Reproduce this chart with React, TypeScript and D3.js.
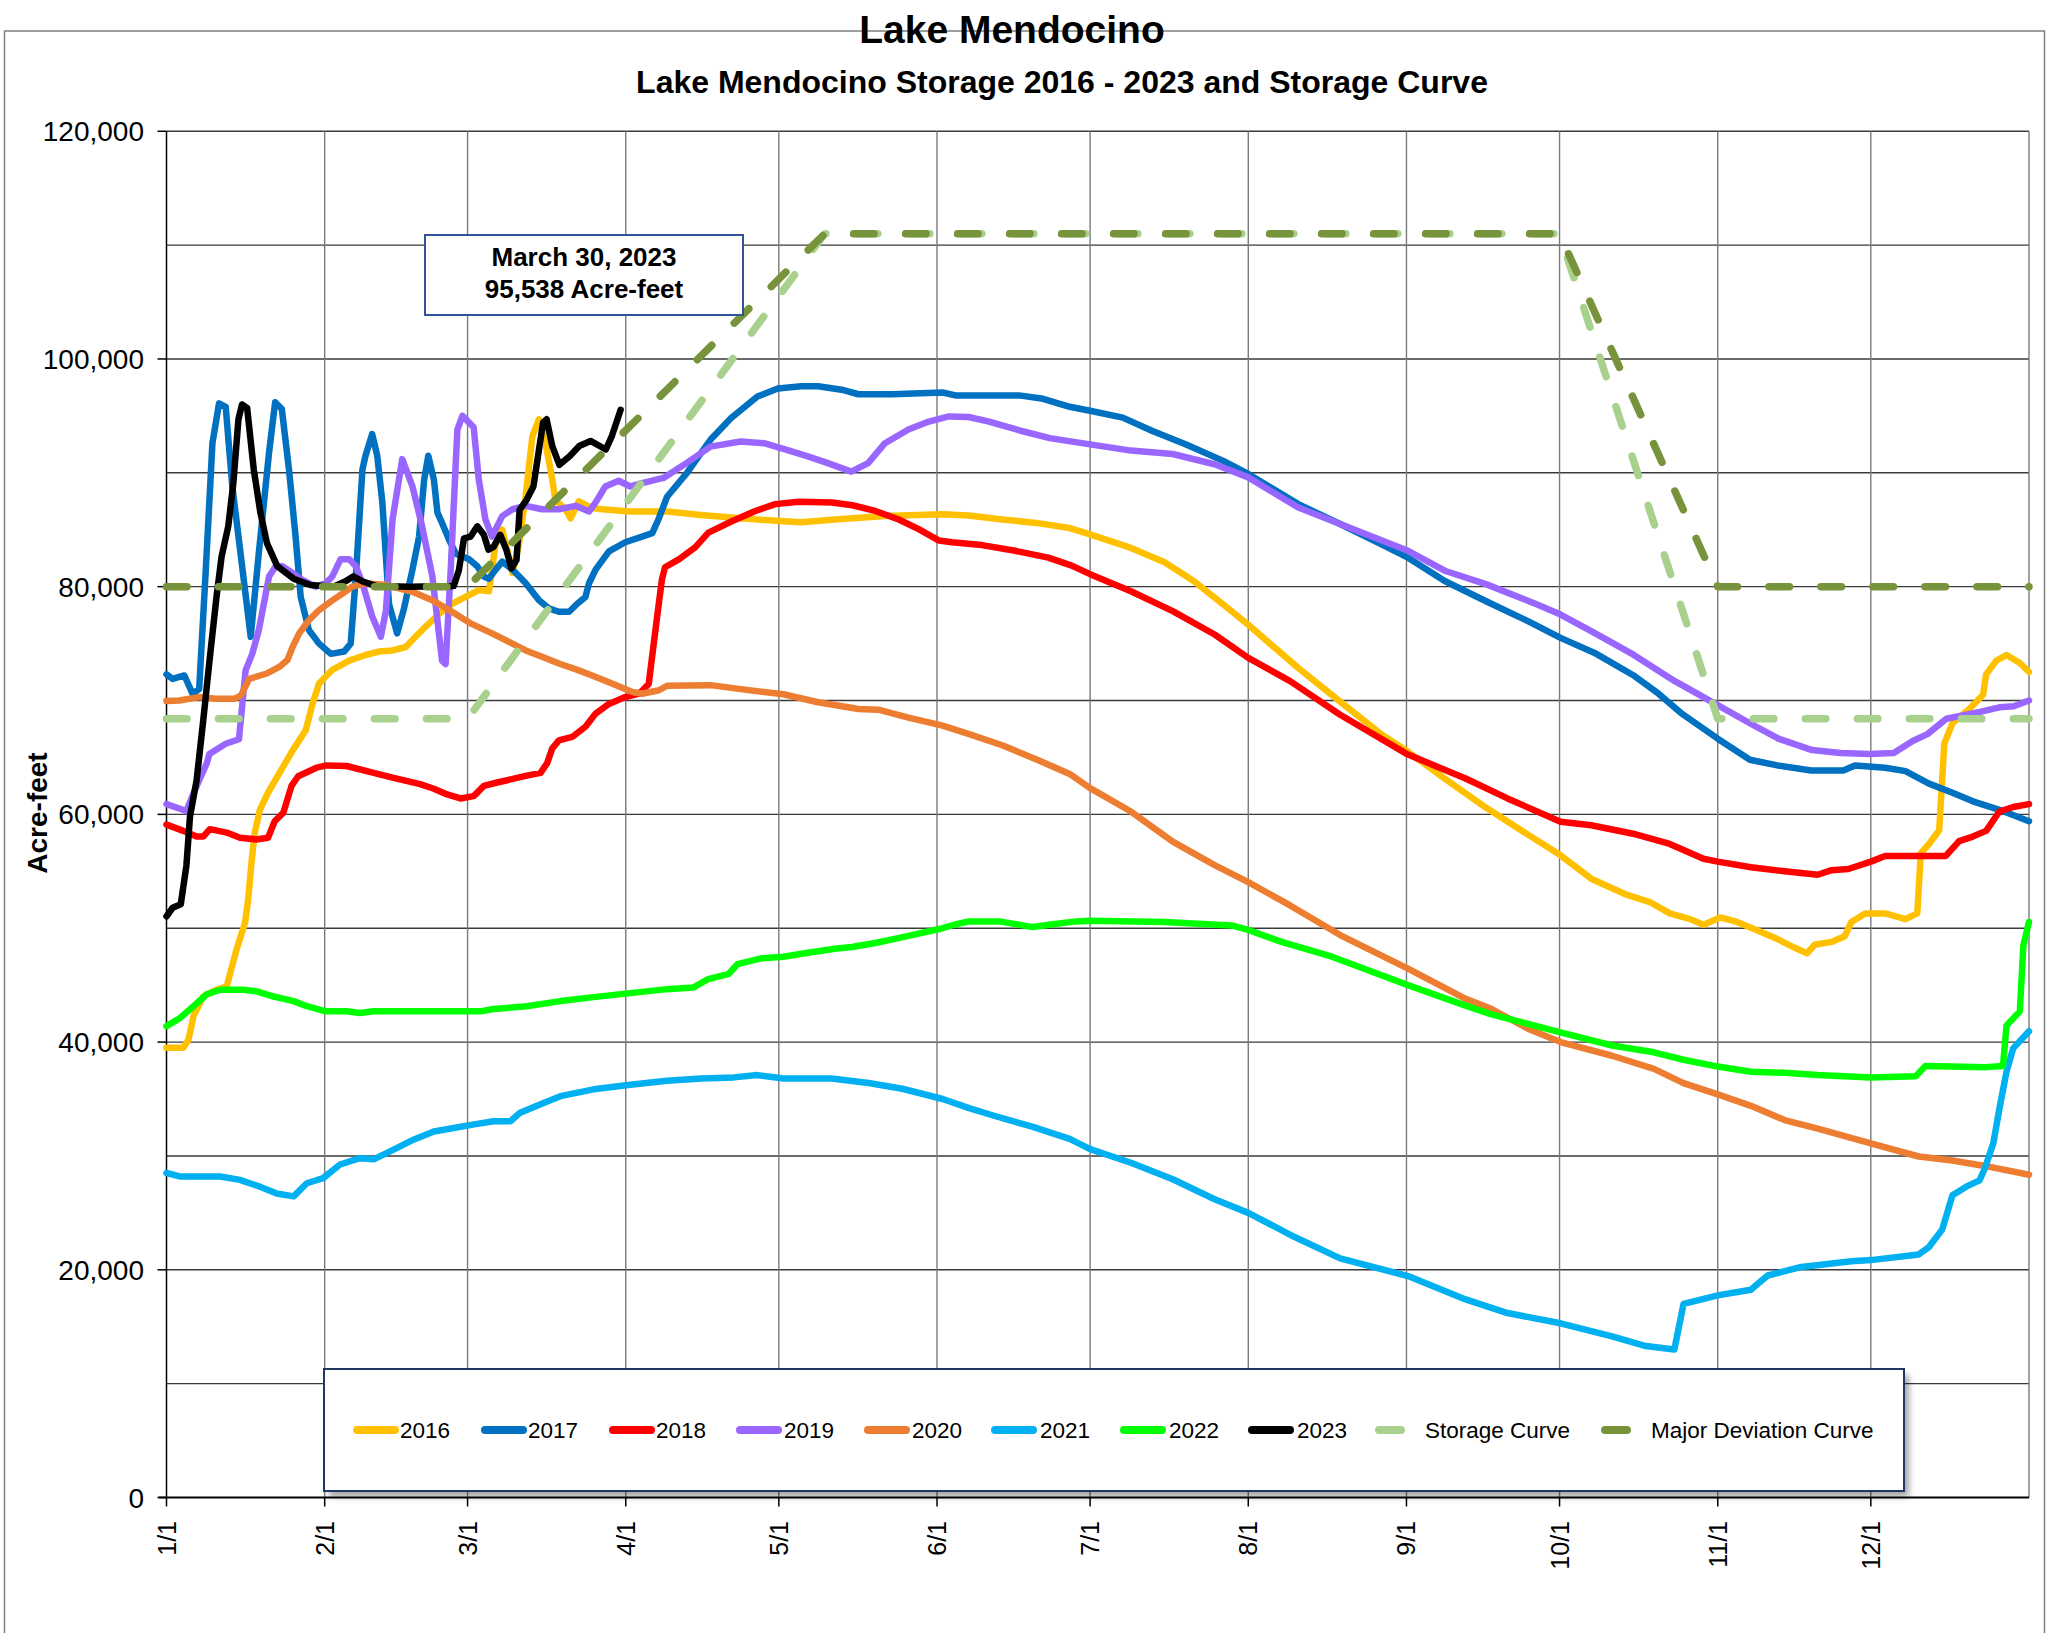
import React from "react";
import * as d3 from "d3";

type Pt = [number, number];

// x = day of year (1/1 = 0), y = storage in acre-feet
const monthDays = [0, 31, 59, 90, 120, 151, 181, 212, 243, 273, 304, 334, 365];
const monthLabels = ["1/1", "2/1", "3/1", "4/1", "5/1", "6/1", "7/1", "8/1", "9/1", "10/1", "11/1", "12/1"];
const yLabelTicks = [0, 20000, 40000, 60000, 80000, 100000, 120000];
const yGridTicks = [10000, 20000, 30000, 40000, 50000, 60000, 70000, 80000, 90000, 100000, 110000, 120000];

const s2016: Pt[] = [
  [0, 39500], [3.3, 39500], [4.3, 40200], [5.3, 42300], [7.2, 44000], [9.8, 44600], [11.8, 44900], [13.7, 48100],
  [15.4, 50500], [16, 52500], [16.7, 56000], [17.3, 58400], [18.3, 60400], [19.9, 61900], [22.1, 63600], [24.7, 65600],
  [27.3, 67400], [28.6, 69700], [29.9, 71500], [32.5, 72700], [35.8, 73500], [39, 74000], [41.6, 74300], [44.3, 74400],
  [46.9, 74700], [48.8, 75600], [50.8, 76500], [53.4, 77600], [56, 78500], [58.6, 79100], [61.2, 79700], [63.2, 79600],
  [63.8, 81500], [64.5, 83800], [65.8, 85000], [67.1, 82600], [67.8, 81200], [69.1, 83800], [70.4, 88000], [71.7, 93200],
  [73, 94700], [74.3, 92600], [75.6, 89400], [76.2, 87600], [78.2, 86800], [79.2, 86000], [80.8, 87500], [83.4, 86900],
  [85.4, 86800], [90.9, 86600], [98.1, 86600], [104.7, 86300], [112.5, 86000], [120.9, 85750], [124.4, 85650], [131, 85900],
  [140.8, 86200], [152, 86350], [157.2, 86250], [163.8, 85900], [170.4, 85600], [177, 85150], [181, 84600], [189, 83400],
  [195.6, 82150], [201.3, 80500], [207.9, 78150], [212, 76650], [221.8, 72850], [230, 69900], [238.2, 67000], [243.3, 65500],
  [250.5, 63150], [258.7, 60550], [266.9, 58200], [273.2, 56400], [279.2, 54350], [285.8, 53000], [290.7, 52300], [294.6, 51300],
  [298.6, 50800], [301.2, 50300], [304.5, 50950], [307.8, 50550], [311.8, 49800], [315.7, 49050], [319, 48300], [321.5, 47800],
  [323, 48550], [326.3, 48800], [328.9, 49300], [330.2, 50550], [332.9, 51300], [336.8, 51300], [340.8, 50800], [343.1, 51300],
  [343.8, 56600], [345.4, 57400], [347.4, 58600], [348.4, 66200], [350, 68000], [353.3, 69250], [356, 70500], [356.6, 72300],
  [358.6, 73500], [360.6, 74000], [363.2, 73300], [365, 72500],
];

const s2017: Pt[] = [
  [0, 72300], [1.2, 71900], [3.5, 72200], [5.1, 70600], [6.4, 71000], [7.7, 81500], [9, 92600], [10.3, 96100],
  [11.6, 95800], [12.9, 88800], [14.9, 81500], [16.5, 75600], [18.1, 83000], [20.1, 91800], [21.3, 96200], [22.6, 95600],
  [24, 90300], [25.3, 84400], [26.3, 79100], [27.9, 76200], [29.9, 75000], [32.2, 74100], [34.8, 74300], [36.1, 75000],
  [37.1, 80900], [38.4, 90300], [39, 91500], [40.3, 93400], [41.3, 91500], [42.3, 87400], [43.6, 78500], [45.2, 75900],
  [46.5, 78000], [48.2, 81500], [49.5, 84400], [50.5, 89400], [51.3, 91500], [52.4, 89400], [53.1, 86500], [54, 85600],
  [55.4, 84100], [56.7, 82900], [59.3, 82400], [60.9, 81800], [62.2, 80900], [63.2, 80700], [64.5, 81500], [65.8, 82200],
  [67.8, 81500], [70.4, 80300], [73, 78800], [74.9, 78100], [76.9, 77800], [78.9, 77800], [80.5, 78500], [82.1, 79100],
  [82.8, 80300], [84.1, 81500], [86.7, 83100], [89.9, 83900], [93.2, 84400], [95.2, 84700], [96.4, 85900], [98.1, 87900],
  [102, 90000], [104.7, 91700], [106.6, 92900], [110.6, 94800], [115.8, 96700], [119.8, 97400], [124.4, 97600], [127.7, 97600],
  [132.3, 97300], [135.6, 96900], [142.1, 96900], [152.1, 97050], [154.6, 96800], [160.6, 96800], [167.1, 96800], [171.8, 96500],
  [177, 95800], [181, 95450], [187.4, 94850], [193.1, 93700], [199.7, 92500], [207.1, 91050], [212, 89900], [221.8, 87250],
  [230, 85500], [238.2, 83700], [243.3, 82550], [250.5, 80500], [258.7, 78700], [266.9, 76950], [273.2, 75500], [280.2, 74100],
  [287.7, 72150], [292.4, 70600], [297.1, 68800], [304, 66650], [310.3, 64800], [315.7, 64300], [322.3, 63850], [328.6, 63850],
  [330.9, 64300], [336.8, 64100], [340.8, 63800], [345.4, 62700], [350, 61900], [354, 61150], [359.2, 60400], [365, 59400],
];

const s2018: Pt[] = [
  [0, 59100], [3.3, 58550], [5.9, 58050], [7.2, 58050], [8.5, 58700], [11.8, 58400], [14.4, 57950], [17.6, 57800],
  [19.9, 57950], [21.2, 59400], [22.9, 60150], [24.5, 62500], [25.8, 63350], [29.4, 64100], [31.4, 64300], [35.3, 64250],
  [40.6, 63650], [44.5, 63200], [49.7, 62650], [52.4, 62250], [55, 61750], [57.6, 61400], [60.2, 61600], [62.2, 62500],
  [64.8, 62800], [68.7, 63200], [70.6, 63400], [73.3, 63650], [74.6, 64500], [75.6, 65800], [76.9, 66500], [79.5, 66800],
  [82.1, 67700], [84.1, 68850], [86.7, 69700], [89.9, 70300], [92.6, 70600], [94.5, 71450], [96.1, 77200], [97.1, 80650],
  [97.7, 81700], [100.4, 82400], [103.6, 83450], [106.2, 84750], [110.8, 85750], [115.4, 86650], [119.3, 87250], [123.9, 87450],
  [130.4, 87400], [134.4, 87150], [138.9, 86650], [143.5, 85900], [147.4, 85050], [151.4, 84050], [153.9, 83900], [159.8, 83650],
  [166.3, 83150], [172.8, 82550], [177.4, 81850], [181, 81100], [189, 79600], [197.2, 77850], [205.4, 75800], [212, 73750],
  [220.2, 71700], [230, 68750], [243.3, 65250], [254.6, 63150], [262.8, 61400], [273.2, 59350], [279.2, 59050], [287.4, 58300],
  [294.6, 57400], [301.2, 56100], [304, 55850], [310.5, 55350], [317.1, 55000], [323.6, 54700], [326.3, 55100], [329.6, 55200],
  [334, 55850], [336.8, 56350], [348.7, 56350], [351.3, 57650], [354, 58050], [356.6, 58550], [357.9, 59400], [359.2, 60250],
  [361.9, 60650], [365, 60900],
];

const s2019: Pt[] = [
  [0, 60900], [3.9, 60300], [5.3, 61850], [6.4, 63000], [7.9, 64500], [8.4, 65300], [11.6, 66200], [14.2, 66600],
  [15.5, 72650], [16.8, 74100], [18.1, 76200], [20.1, 80900], [21.4, 81800], [22.7, 81800], [24.7, 81200], [26.6, 80600],
  [29.2, 80000], [31.2, 80300], [32.5, 80900], [34.1, 82400], [35.8, 82400], [37.1, 81800], [38.4, 80300], [40.3, 77400],
  [42, 75600], [43, 77900], [44.3, 85900], [46.2, 91200], [48.2, 88800], [50.1, 85300], [52.1, 80900], [54, 73500],
  [54.7, 73200], [55.7, 81500], [57, 93800], [58, 95000], [60.2, 94000], [61.2, 89400], [62.5, 85900], [63.8, 84400],
  [65.8, 86200], [67.8, 86800], [70.4, 87100], [73.6, 86800], [76.9, 86800], [80.2, 87100], [82.8, 86600], [84.1, 87400],
  [86, 88800], [88.6, 89300], [90.9, 88800], [93.2, 89100], [97.4, 89550], [101.4, 90700], [106.6, 92300], [112.5, 92750],
  [117.1, 92600], [121.7, 92000], [125.7, 91450], [129.6, 90850], [134.2, 90100], [137.5, 90850], [140.8, 92600], [145.4, 93800],
  [149.4, 94500], [153.3, 94950], [157.2, 94900], [161.2, 94500], [167.8, 93650], [173.1, 93050], [181, 92500], [189, 91950],
  [197.2, 91650], [205.4, 90750], [212, 89600], [221.8, 86950], [230, 85500], [243.3, 83150], [250.5, 81400], [258.7, 80200],
  [268.5, 78450], [273.2, 77550], [279.2, 76100], [287.4, 74050], [295.6, 71700], [304, 69600], [310.3, 68000], [315.9, 66650],
  [322.5, 65650], [328.1, 65400], [333.7, 65300], [338.5, 65400], [342.2, 66450], [345.1, 67050], [348.8, 68400], [355.4, 69000],
  [359.2, 69400], [362, 69500], [365, 70000],
];

const s2020: Pt[] = [
  [0, 69950], [2.5, 70000], [6.4, 70300], [9.7, 70150], [13.3, 70150], [14.6, 70450], [16.2, 71900], [19.5, 72350],
  [22.1, 72950], [23.7, 73550], [24.7, 74700], [26, 75900], [27.9, 77050], [29.9, 77950], [32.5, 78800], [34.5, 79400],
  [36.4, 80000], [39, 80300], [42.9, 80150], [48.2, 79550], [52.1, 78800], [55.4, 77950], [59.7, 76750], [63.8, 75900],
  [67.1, 75150], [70.4, 74400], [73.6, 73850], [76.9, 73250], [80.8, 72650], [83.4, 72200], [86.7, 71600], [91.3, 70750],
  [93.2, 70600], [96.5, 70900], [98.1, 71300], [106.6, 71350], [112.5, 71000], [120.9, 70550], [127.7, 69850], [135.6, 69250],
  [139.5, 69200], [145.4, 68500], [152.1, 67800], [157.3, 67050], [163.9, 66050], [170.4, 64850], [177, 63550], [181, 62300],
  [189, 60250], [197.2, 57600], [205.4, 55550], [212, 54050], [220.2, 52000], [230, 49400], [243.3, 46450], [254.6, 43800],
  [259.5, 42950], [266.9, 41150], [273.2, 40000], [283.3, 38800], [291.5, 37650], [297.3, 36400], [304, 35400], [310.5, 34400],
  [317.1, 33150], [323.6, 32400], [334, 31100], [343.4, 29950], [350, 29600], [356.6, 29100], [365, 28350],
];

const s2021: Pt[] = [
  [0, 28500], [2.6, 28200], [10.5, 28200], [14.4, 27900], [18.3, 27300], [21.6, 26700], [24.9, 26450], [27.5, 27600],
  [30.7, 28050], [34, 29250], [37.9, 29800], [40.6, 29700], [44.5, 30550], [48.5, 31450], [52.4, 32150], [56.3, 32450],
  [60, 32750], [64.1, 33050], [67.4, 33050], [69.3, 33800], [73.9, 34650], [77.2, 35250], [83.7, 35850], [90.9, 36250],
  [98.1, 36600], [104.8, 36800], [111.2, 36900], [115.8, 37100], [120.9, 36800], [130.3, 36800], [137.6, 36400], [144.2, 35900],
  [152.1, 35000], [157.3, 34200], [162, 33550], [169.8, 32550], [177, 31500], [181, 30600], [189, 29400], [197.2, 27950],
  [205.4, 26200], [212, 25000], [221, 22900], [230, 21000], [243.3, 19450], [254.6, 17400], [262.8, 16200], [273.2, 15300],
  [283.3, 14150], [289.9, 13300], [295.5, 13000], [297.3, 17000], [304, 17750], [310.5, 18250], [311.8, 18750], [313.8, 19500],
  [320.4, 20250], [330.2, 20750], [334, 20850], [343.4, 21350], [345.4, 22000], [348, 23550], [350, 26550], [352.7, 27300],
  [355.3, 27850], [356.3, 28850], [358, 31100], [359.3, 34400], [360.6, 37400], [361.9, 39450], [365, 40950],
];

const s2022: Pt[] = [
  [0, 41400], [2.6, 42100], [5.3, 43150], [7.9, 44200], [10.5, 44600], [15.1, 44600], [17.7, 44450], [21, 44000],
  [24.9, 43600], [27.5, 43150], [31.2, 42700], [35.3, 42700], [37.9, 42550], [40.6, 42700], [51, 42700], [61.5, 42700],
  [64.1, 42900], [70.6, 43150], [77.2, 43600], [83.7, 43950], [90.9, 44300], [98.1, 44650], [103.3, 44800], [106, 45500],
  [110.2, 46000], [111.9, 46850], [116.5, 47350], [120.9, 47500], [125.7, 47850], [131, 48200], [134.3, 48350], [138.9, 48700],
  [144.1, 49200], [152.1, 50000], [154.7, 50350], [157.3, 50600], [163.2, 50600], [169.8, 50100], [173.7, 50350], [178.3, 50600],
  [181, 50650], [195.6, 50550], [208.7, 50250], [212, 49850], [218.5, 48800], [228.4, 47500], [243.3, 45000], [254.6, 43200],
  [259.5, 42450], [273.2, 40850], [283.3, 39700], [291.5, 39100], [297.3, 38450], [304, 37850], [310.5, 37400], [317.1, 37300],
  [323.6, 37100], [334, 36900], [342.8, 37000], [344.7, 37900], [356.6, 37800], [359.9, 37900], [360.6, 41450], [363.2, 42700],
  [363.9, 48500], [365, 50550],
];

const s2023: Pt[] = [
  [0, 51050], [1.2, 51800], [2.8, 52100], [3.9, 55500], [4.6, 59800], [5.9, 63000], [7.2, 68250], [8.5, 73800],
  [9.8, 79100], [10.8, 82650], [12.1, 85300], [13.1, 89100], [14.1, 94700], [14.8, 96000], [15.8, 95700], [17.1, 90300],
  [18.4, 86500], [19.7, 83800], [21.7, 81800], [24.9, 80700], [28.2, 80150], [32.7, 80000], [35, 80450], [36.6, 80900],
  [38.5, 80450], [41.1, 80050], [47.7, 80000], [56.3, 80050], [57.3, 81450], [58.3, 84250], [59.6, 84400], [60.9, 85300],
  [62.2, 84550], [63.1, 83250], [64.1, 83500], [65.4, 84550], [66.6, 83250], [67.6, 81600], [68.6, 82350], [69.2, 86750],
  [70.6, 87650], [71.9, 88800], [72.8, 91450], [73.8, 94400], [74.5, 94700], [75.6, 92350], [77, 90700], [79, 91450],
  [80.9, 92350], [83.1, 92800], [86.1, 92050], [87.3, 93250], [89, 95538],
];

const storageCurve: Pt[] = [[0, 68400], [59, 68400], [129, 111000], [273, 111000], [304, 68400], [365, 68400]];
const majorDeviation: Pt[] = [[0, 80000], [59, 80000], [129, 111000], [273, 111000], [304, 80000], [365, 80000]];

const seriesNames = ["2016", "2017", "2018", "2019", "2020", "2021", "2022", "2023", "Storage Curve", "Major Deviation Curve"];
const seriesColors = ["#FFC000", "#0070C0", "#FF0000", "#9966FF", "#ED7D31", "#00B0F0", "#00FF00", "#000000", "#A9D18E", "#77933C"];
const seriesData = [s2016, s2017, s2018, s2019, s2020, s2021, s2022, s2023, storageCurve, majorDeviation];

const FONT = "'Liberation Sans', Arial, Helvetica, sans-serif";

export default function App() {
  const W = 2049;
  const H = 1633;
  const plot = { left: 166.5, right: 2029, top: 131.25, bottom: 1497.5 };

  const x = d3.scaleLinear().domain([0, 365]).range([plot.left, plot.right]);
  const y = d3.scaleLinear().domain([0, 120000]).range([plot.bottom, plot.top]);
  const line = d3.line<Pt>().x((d) => x(d[0])).y((d) => y(d[1]));

  // legend layout: symbol start/end and text start for each entry
  const legendBox = { x: 324, y: 1369, w: 1580, h: 122 };
  const legendY = 1430;
  const legendSym = [
    [357, 395], [485, 523], [613, 651], [740, 778], [868, 906], [995, 1033], [1124, 1162], [1252, 1290], [1379, 1401], [1605, 1627],
  ];
  const legendText = [400, 528, 656, 784, 912, 1040, 1169, 1297, 1425, 1651];
  const fmt = d3.format(",");

  return (
    <svg width={W} height={H} viewBox={`0 0 ${W} ${H}`}
      style={{ position: "absolute", left: 0, top: 0, background: "#fff" }}
      fontFamily={FONT}>
      <defs>
        <filter id="shadow" x="-5%" y="-20%" width="110%" height="150%">
          <feGaussianBlur stdDeviation="3" />
        </filter>
      </defs>
      <rect x={0} y={0} width={W} height={H} fill="#fff" />
      {/* chart area border */}
      <rect x={4.5} y={31} width={2040} height={1700} fill="none" stroke="#7f7f7f" strokeWidth={1.5} />

      {/* titles */}
      <text x={1012} y={43} textAnchor="middle" fontWeight="bold" fontSize={39}>Lake Mendocino</text>
      <text x={1062} y={93} textAnchor="middle" fontWeight="bold" fontSize={32}>
        Lake Mendocino Storage 2016 - 2023 and Storage Curve
      </text>

      {/* gridlines */}
      {yGridTicks.map((v) => (
        <line key={"hg" + v} x1={plot.left} x2={plot.right} y1={y(v)} y2={y(v)} stroke="#3a3a3a" strokeWidth={1.4} />
      ))}
      {monthDays.slice(1).map((d) => (
        <line key={"vg" + d} x1={x(d)} x2={x(d)} y1={plot.top} y2={plot.bottom} stroke="#7a7a7a" strokeWidth={1.4} />
      ))}

      {/* axes */}
      <line x1={plot.left} x2={plot.left} y1={plot.top} y2={plot.bottom} stroke="#000" strokeWidth={1.5} />
      <line x1={plot.left - 8} x2={plot.right} y1={plot.bottom} y2={plot.bottom} stroke="#000" strokeWidth={2} />
      {yLabelTicks.map((v) => (
        <g key={"yt" + v}>
          <line x1={plot.left - 9} x2={plot.left} y1={y(v)} y2={y(v)} stroke="#000" strokeWidth={1.5} />
          <text x={144} y={y(v)} dy="0.36em" textAnchor="end" fontSize={28}>{fmt(v)}</text>
        </g>
      ))}
      {monthDays.slice(0, 12).map((d, i) => (
        <g key={"xt" + d}>
          <line x1={x(d)} x2={x(d)} y1={plot.bottom} y2={plot.bottom + 9} stroke="#000" strokeWidth={1.5} />
          <text transform={`translate(${x(d)},1521) rotate(-90)`} textAnchor="end" dy="0.36em" fontSize={25}>
            {monthLabels[i]}
          </text>
        </g>
      ))}
      <text transform="translate(37,813) rotate(-90)" textAnchor="middle" dy="0.36em" fontWeight="bold" fontSize={28}>
        Acre-feet
      </text>

      {/* series */}
      {seriesData.map((data, i) => {
        const dashed = i >= 8;
        return (
          <path key={seriesNames[i]} d={line(data) || ""} fill="none" stroke={seriesColors[i]}
            strokeWidth={dashed ? 7.5 : 6.5} strokeLinejoin="round" strokeLinecap="round"
            strokeDasharray={dashed ? "20.5 31.5" : undefined} />
        );
      })}

      {/* annotation */}
      <rect x={425} y={235} width={318} height={80} fill="#fff" stroke="#2F5597" strokeWidth={2} />
      <text x={584} y={266} textAnchor="middle" fontWeight="bold" fontSize={26}>March 30, 2023</text>
      <text x={584} y={298} textAnchor="middle" fontWeight="bold" fontSize={26}>95,538 Acre-feet</text>

      {/* legend */}
      <rect x={legendBox.x + 5} y={legendBox.y + 6} width={legendBox.w} height={legendBox.h} fill="#000" opacity={0.35} filter="url(#shadow)" />
      <rect x={legendBox.x} y={legendBox.y} width={legendBox.w} height={legendBox.h} fill="#fff" stroke="#1F3864" strokeWidth={2} />
      {seriesNames.map((name, i) => (
        <g key={"lg" + name}>
          <line x1={legendSym[i][0]} x2={legendSym[i][1]} y1={legendY} y2={legendY} stroke={seriesColors[i]}
            strokeWidth={8} strokeLinecap="round" />
          <text x={legendText[i]} y={legendY} dy="0.36em" fontSize={22.5}>{name}</text>
        </g>
      ))}
    </svg>
  );
}
